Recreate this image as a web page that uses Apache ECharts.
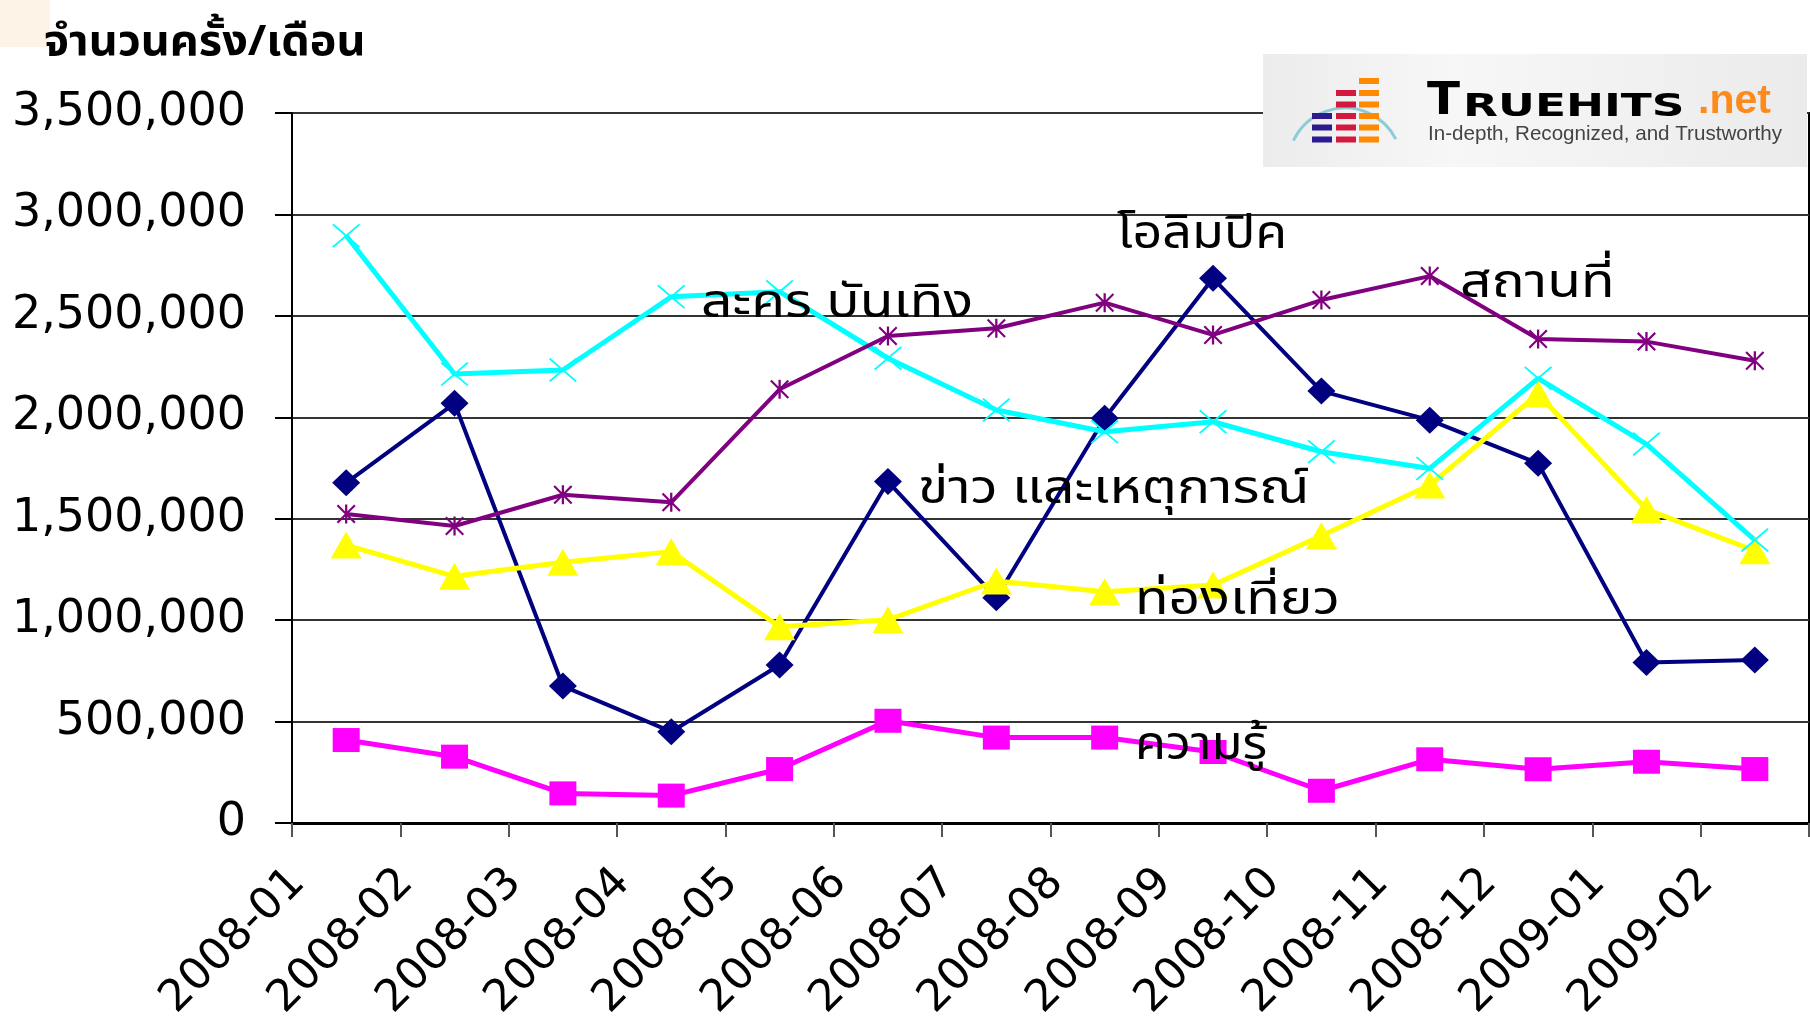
<!DOCTYPE html>
<html>
<head>
<meta charset="utf-8">
<title>Truehits</title>
<script src="https://cdn.jsdelivr.net/npm/echarts@6/dist/echarts.min.js"></script>
<style>
    html, body { margin: 0; padding: 0; background: #fff; }
    #divChart { width: 1810px; height: 1020px; }
</style>
</head>
<body>
<div id="divChart"></div>
<script>
// data
var months = ["2008-01", "2008-02", "2008-03", "2008-04", "2008-05", "2008-06", "2008-07",
    "2008-08", "2008-09", "2008-10", "2008-11", "2008-12", "2009-01", "2009-02"];
var seriesNames = ["ข่าว และเหตุการณ์", "ความรู้", "ท่องเที่ยว", "ละคร บันเทิง", "สถานที่"];
var newsData = [1677000, 2069000, 675000, 450000, 779000, 1683000, 1110000, 1995000, 2685000, 2129000, 1986000, 1773000, 791000, 803000];
var knowledgeData = [409000, 327000, 146000, 135000, 266000, 504000, 421000, 421000, 350000, 159000, 314000, 265000, 302000, 266000];
var travelData = [1370000, 1216000, 1285000, 1337000, 968000, 1002000, 1193000, 1140000, 1173000, 1416000, 1666000, 2115000, 1546000, 1342000];
var dramaData = [2895000, 2213000, 2233000, 2594000, 2619000, 2291000, 2036000, 1929000, 1978000, 1830000, 1748000, 2192000, 1868000, 1395000];
var placeData = [1523000, 1464000, 1618000, 1581000, 2138000, 2401000, 2439000, 2565000, 2406000, 2578000, 2696000, 2386000, 2373000, 2279000];
var yMin = 0, yMax = 3500000, yStep = 500000;
var yTitle = "จำนวนครั้ง/เดือน";
var olympicNote = "โอลิมปิค";

var Chart = {
    Fonts: {
        thai: "'Noto Sans Thai', 'Noto Sans Thai Looped', 'Loma', 'Garuda', 'Waree', 'Norasi', 'DejaVu Sans', sans-serif",
        axis: "'DejaVu Sans', 'Liberation Sans', sans-serif"
    },
    Symbols: {
        cross: 'path://M0,0.5 L0.5,0 L10,9.5 L9.5,10 Z M9.5,0 L10,0.5 L0.5,10 L0,9.5 Z',
        star: 'path://M0,0.8 L0.8,0 L10,9.2 L9.2,10 Z M9.2,0 L10,0.8 L0.8,10 L0,9.2 Z M4.4,0 L5.6,0 L5.6,10 L4.4,10 Z'
    },
    Load: function () {
        var me = Chart;
        try {
            var aChart = echarts.init(document.getElementById("divChart"));
            aChart.setOption(me.getOption());
        }
        catch (e) {
            console.log(e);
        }
    },
    lineSeries: function (aName, aData, aColor, aWidth, aSymbol, aSize) {
        return {
            name: aName,
            type: 'line',
            data: aData,
            symbol: aSymbol,
            symbolSize: aSize,
            showAllSymbol: true,
            animation: false,
            lineStyle: { color: aColor, width: aWidth },
            itemStyle: { color: aColor, borderWidth: 0 }
        };
    },
    // the Thai font here is wider and shorter than the original, so squeeze it a bit
    note: function (aText, aX, aY, aScale) {
        var me = Chart;
        return {
            type: 'text', x: aX, y: aY, z: 50, scaleX: aScale || 1.2,
            style: {
                text: aText, fill: '#000',
                font: 'normal 46px ' + me.Fonts.thai,
                textAlign: 'left', textVerticalAlign: 'middle'
            }
        };
    },
    logo: function () {
        var aItems = [];
        aItems.push({
            type: 'rect', shape: { x: 1263, y: 54, width: 544, height: 113 }, z: 40,
            style: {
                fill: new echarts.graphic.LinearGradient(0, 0, 1, 0, [
                    { offset: 0, color: '#ececec' },
                    { offset: 0.35, color: '#f7f7f7' },
                    { offset: 1, color: '#ebebeb' }
                ])
            }
        });
        aItems.push({
            type: 'arc', z: 41,
            shape: { cx: 1345, cy: 165, r: 57, startAngle: Math.PI * 1.14, endAngle: Math.PI * 1.85 },
            style: { stroke: '#8ccbd8', lineWidth: 3, fill: null }
        });
        var aCols = [
            { x: 1312, color: '#2b1b8f', rows: [113, 124.5, 136.5] },
            { x: 1336, color: '#d31a3e', rows: [90, 101.5, 113, 124.5, 136.5] },
            { x: 1359, color: '#ff8a00', rows: [78, 90, 101.5, 113, 124.5, 136.5] }
        ];
        for (var i in aCols) {
            for (var j in aCols[i].rows) {
                aItems.push({
                    type: 'rect', z: 42,
                    shape: { x: aCols[i].x, y: aCols[i].rows[j], width: 20, height: 6 },
                    style: { fill: aCols[i].color }
                });
            }
        }
        aItems.push({
            type: 'text', x: 1427, y: 103, z: 42, scaleX: 1.1,
            style: { text: 'T', fill: '#000', font: 'bold 44px "DejaVu Sans"', textVerticalAlign: 'middle' }
        });
        aItems.push({
            type: 'text', x: 1463, y: 108, z: 42, scaleX: 1.42,
            style: { text: 'RUEHITS', fill: '#000', font: 'bold 32px "DejaVu Sans"', textVerticalAlign: 'middle' }
        });
        aItems.push({
            type: 'text', x: 1698, y: 102, z: 42,
            style: { text: '.net', fill: '#ff8a1c', font: 'bold 41px "Liberation Sans"', textVerticalAlign: 'middle' }
        });
        aItems.push({
            type: 'text', x: 1428, y: 134, z: 42,
            style: { text: 'In-depth, Recognized, and Trustworthy', fill: '#444', font: 'normal 20.6px "Liberation Sans"', textVerticalAlign: 'middle' }
        });
        return aItems;
    },
    getOption: function () {
        var me = Chart;
        var aGraphic = [
            { type: 'rect', shape: { x: 0, y: 0, width: 50, height: 47 }, style: { fill: '#fdf3e6' }, z: 1 },
            { type: 'text', x: 44, y: 47, z: 50, scaleX: 1.07,
              style: { text: yTitle, fill: '#000', font: 'bold 42px ' + me.Fonts.thai, textVerticalAlign: 'middle' } },
            me.note(olympicNote, 1117, 239, 1.13),
            me.note(seriesNames[4], 1460, 288),
            me.note(seriesNames[3], 701, 308),
            me.note(seriesNames[0], 918, 494),
            me.note(seriesNames[2], 1135, 605),
            me.note(seriesNames[1], 1135, 750, 1.1)
        ].concat(me.logo());

        return {
            backgroundColor: '#fff',
            animation: false,
            grid: {
                left: 292, right: 1, top: 113, bottom: 197,
                containLabel: false, outerBoundsMode: 'none',
                show: true, borderColor: '#000', borderWidth: 2, backgroundColor: 'transparent'
            },
            xAxis: {
                type: 'category',
                data: months,
                boundaryGap: true,
                axisLine: { lineStyle: { color: '#000', width: 3 } },
                axisTick: { show: true, length: 14, lineStyle: { color: '#555', width: 2 } },
                axisLabel: {
                    rotate: 45, interval: 0, margin: 5, padding: [0, 68, 0, 0],
                    color: '#000', fontSize: 44, fontFamily: me.Fonts.axis
                },
                splitLine: { show: false }
            },
            yAxis: {
                type: 'value',
                min: yMin, max: yMax, interval: yStep,
                axisLine: { show: true, lineStyle: { color: '#000', width: 2 } },
                axisTick: { show: true, length: 17, lineStyle: { color: '#000', width: 2 } },
                axisLabel: {
                    margin: 46, color: '#000', fontSize: 46, fontFamily: me.Fonts.axis,
                    formatter: function (v) { return v.toLocaleString('en-US'); }
                },
                splitLine: { show: true, lineStyle: { color: '#333', width: 2 } }
            },
            series: [
                me.lineSeries(seriesNames[0], newsData, '#000080', 4, 'diamond', [28, 27]),
                me.lineSeries(seriesNames[1], knowledgeData, '#ff00ff', 5, 'rect', [27, 24]),
                me.lineSeries(seriesNames[2], travelData, '#ffff00', 5, 'triangle', [31, 27]),
                me.lineSeries(seriesNames[3], dramaData, '#00ffff', 5, me.Symbols.cross, [28, 24]),
                me.lineSeries(seriesNames[4], placeData, '#800080', 4, me.Symbols.star, [19, 19])
            ],
            graphic: aGraphic
        };
    }
};

Chart.Load();
</script>
</body>
</html>
